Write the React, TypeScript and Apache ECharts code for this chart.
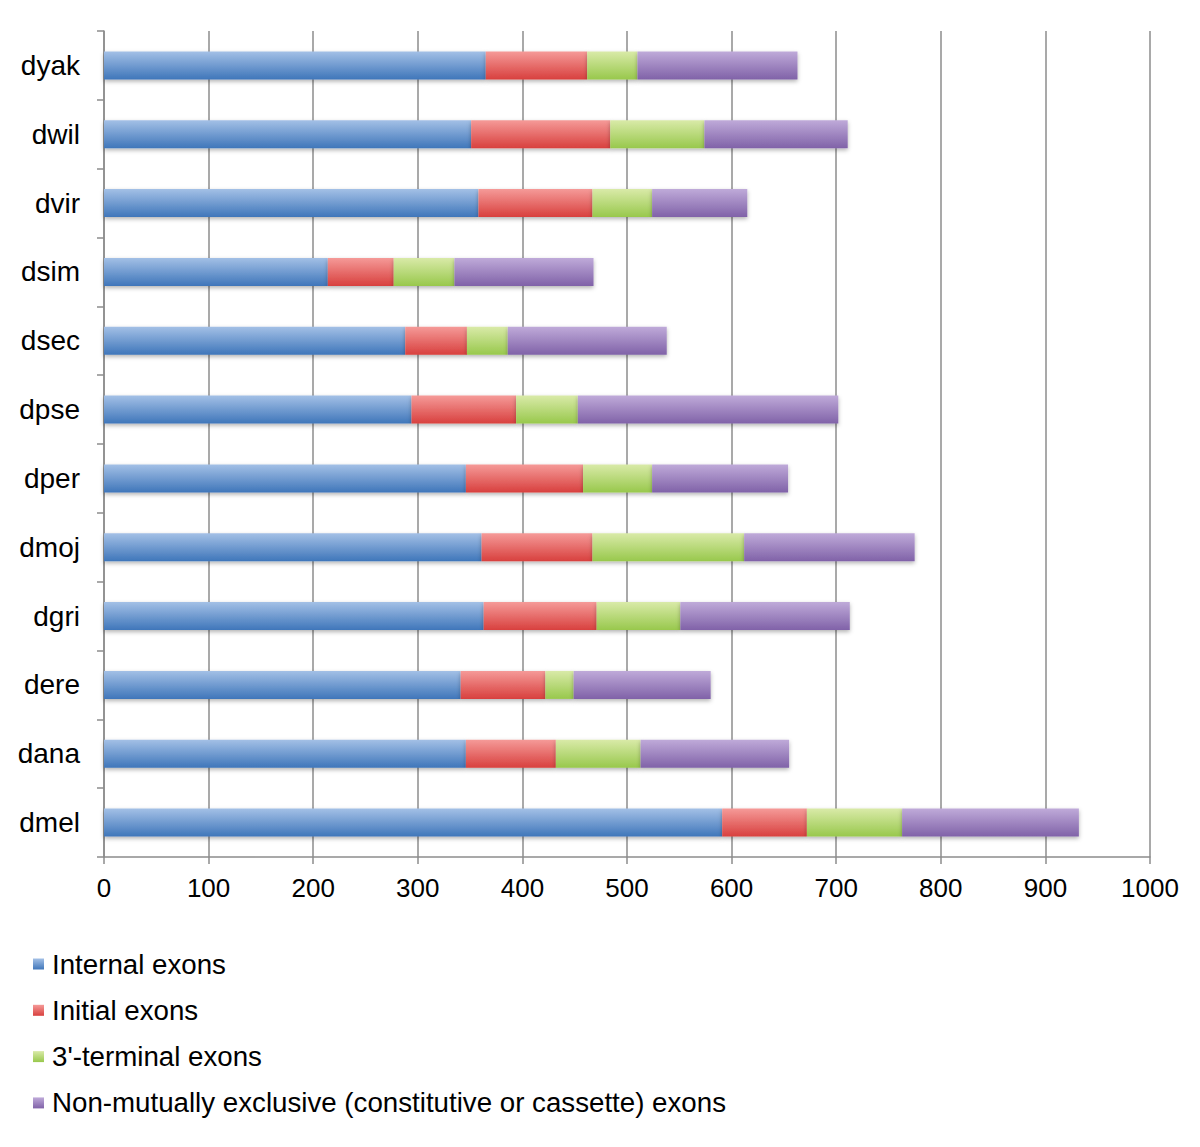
import React, { useEffect, useRef } from "react";
import * as echarts from "echarts";

const categories = ["dmel", "dana", "dere", "dgri", "dmoj", "dper", "dpse", "dsec", "dsim", "dvir", "dwil", "dyak"];
const internalExons = [591, 346, 341, 363, 361, 346, 294, 288, 214, 358, 351, 365];
const initialExons = [81, 86, 81, 108, 106, 112, 100, 59, 63, 109, 133, 97];
const terminalExons = [91, 81, 27, 80, 145, 66, 59, 39, 58, 57, 90, 48];
const nonMutualExons = [169, 142, 131, 162, 163, 130, 249, 152, 133, 91, 137, 153];
const seriesNames = [
  "Internal exons",
  "Initial exons",
  "3'-terminal exons",
  "Non-mutually exclusive (constitutive or cassette) exons",
];
const xTicks = { min: 0, max: 1000, interval: 100 };

const grad = (top: string, bottom: string) =>
  new echarts.graphic.LinearGradient(0, 0, 0, 1, [
    { offset: 0, color: top },
    { offset: 1, color: bottom },
  ]);

export default function App() {
  const ref = useRef<HTMLDivElement>(null);
  useEffect(() => {
    if (!ref.current) return;
    const chart = echarts.init(ref.current, undefined, { renderer: "svg" });
    const colors = [
      ["#a3c0e6", "#3f76ba"],
      ["#f59a98", "#d8403e"],
      ["#d9eaa8", "#98c84c"],
      ["#bfaad9", "#8062a8"],
    ];
    const datas = [internalExons, initialExons, terminalExons, nonMutualExons];
    chart.setOption({
      animation: false,
      textStyle: { fontFamily: "Liberation Sans, Arial, sans-serif" },
      grid: { left: 96, right: 42, top: 23, bottom: 282, containLabel: false },
      legend: {
        orient: "vertical",
        left: 20,
        top: 937,
        itemGap: 18.3,
        itemWidth: 11,
        itemHeight: 11,
        icon: "rect",
        textStyle: { fontSize: 27.7, color: "#000", padding: [0, 0, 0, 3] },
        data: seriesNames.map((n, i) => ({ name: n, itemStyle: { color: grad(colors[i][0], colors[i][1]) } })),
      },
      xAxis: {
        type: "value",
        min: xTicks.min,
        max: xTicks.max,
        interval: xTicks.interval,
        axisLine: { show: true, lineStyle: { color: "#8c8c8c", width: 1.5 } },
        axisTick: { show: true, length: 7, lineStyle: { color: "#8c8c8c", width: 1.5 } },
        axisLabel: { fontSize: 26, color: "#000", margin: 18, formatter: (v: number) => String(v) },
        splitLine: { show: true, lineStyle: { color: "#8c8c8c", width: 1.5 } },
      },
      yAxis: {
        type: "category",
        data: categories,
        axisLine: { show: true, lineStyle: { color: "#8c8c8c", width: 1.5 } },
        axisTick: { show: true, length: 7, lineStyle: { color: "#8c8c8c", width: 1.5 } },
        axisLabel: { fontSize: 28, color: "#000", margin: 24 },
      },
      series: datas.map((d, i) => ({
        name: seriesNames[i],
        type: "bar",
        stack: "total",
        barWidth: 28,
        data: d,
        itemStyle: {
          color: grad(colors[i][0], colors[i][1]),
          shadowBlur: 4,
          shadowOffsetY: 2,
          shadowColor: "rgba(0,0,0,0.3)",
        },
      })),
    });
    return () => chart.dispose();
  }, []);
  return <div ref={ref} style={{ width: 1184, height: 1131 }} />;
}
